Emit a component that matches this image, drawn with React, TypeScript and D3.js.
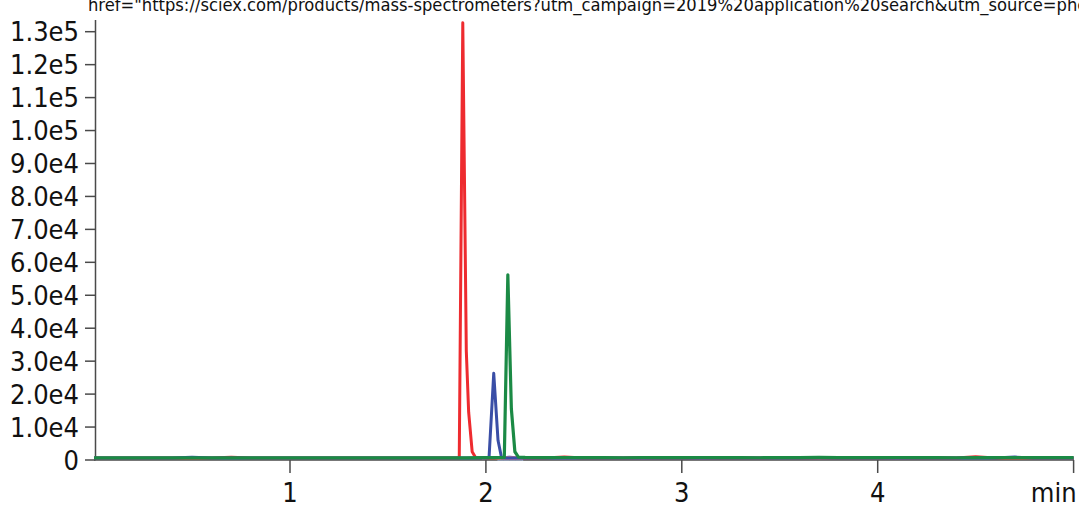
import React from "react";
import * as d3 from "d3";

// ---- data ----
const baselineTimes = [0.0, 0.1, 0.2, 0.3, 0.4, 0.5, 0.6, 0.7, 0.8, 0.9, 1.0, 1.1, 1.2, 1.3, 1.4, 1.5, 1.6, 1.7, 1.8, 1.9, 2.0, 2.1, 2.2, 2.3, 2.4, 2.5, 2.6, 2.7, 2.8, 2.9, 3.0, 3.1, 3.2, 3.3, 3.4, 3.5, 3.6, 3.7, 3.8, 3.9, 4.0, 4.1, 4.2, 4.3, 4.4, 4.5, 4.6, 4.7, 4.8, 4.9, 5.0];
const greenBaseline = [650, 640, 660, 630, 650, 660, 640, 650, 630, 660, 650, 640, 660, 650, 640, 660, 650, 630, 650, 660, 700, 720, 780, 720, 760, 700, 740, 690, 760, 710, 730, 760, 700, 740, 690, 750, 710, 770, 720, 700, 740, 760, 710, 730, 690, 740, 720, 700, 730, 710, 720];
const redBaseline = [600, 610, 590, 620, 600, 580, 620, 860, 610, 590, 600, 620, 600, 590, 610, 600, 620, 600, 610, 600, 620, 610, 640, 600, 880, 620, 640, 600, 650, 610, 630, 660, 600, 640, 610, 650, 600, 670, 620, 610, 640, 660, 600, 640, 610, 950, 620, 600, 630, 610, 620];
const blueBaseline = [610, 600, 620, 600, 610, 840, 600, 610, 600, 620, 600, 610, 600, 620, 600, 610, 600, 620, 600, 610, 600, 620, 630, 610, 640, 620, 630, 610, 640, 620, 610, 640, 620, 630, 610, 640, 620, 650, 610, 620, 630, 640, 620, 630, 610, 640, 620, 880, 640, 620, 630];

const redPeakTimes = [1.846, 1.864, 1.882, 1.9, 1.912, 1.93, 1.948];
const redPeakValues = [620, 650, 132700, 33000, 14500, 2500, 700];
const bluePeakTimes = [1.998, 2.016, 2.04, 2.062, 2.08];
const bluePeakValues = [600, 700, 26300, 5900, 700];
const greenPeakTimes = [2.076, 2.094, 2.112, 2.13, 2.148, 2.166];
const greenPeakValues = [700, 800, 56200, 15500, 2500, 900];
const lightBlueTimes = [2.06, 2.09, 2.12, 2.15, 2.19];
const lightBlueValues = [0, 800, 1300, 900, 0];
const pinkTimes = [1.98, 2.03, 2.07];
const pinkValues = [200, 700, 200];

const yTickValues = [0, 10000, 20000, 30000, 40000, 50000, 60000, 70000, 80000, 90000, 100000, 110000, 120000, 130000];
const yTickLabels = ["0", "1.0e4", "2.0e4", "3.0e4", "4.0e4", "5.0e4", "6.0e4", "7.0e4", "8.0e4", "9.0e4", "1.0e5", "1.1e5", "1.2e5", "1.3e5"];
const xTickValues = [1, 2, 3, 4, 5];
const xTickLabels = ["1", "2", "3", "4", "min"];

const headerText =
  'href="https://sciex.com/products/mass-spectrometers?utm_campaign=2019%20application%20search&utm_source=phe';

type Pt = [number, number];

function merge(bTimes: number[], bVals: number[], pTimes: number[], pVals: number[]): Pt[] {
  const lo = pTimes[0];
  const hi = pTimes[pTimes.length - 1];
  const pts: Pt[] = [];
  bTimes.forEach((t, i) => {
    if (t < lo || t > hi) pts.push([t, bVals[i]]);
  });
  pTimes.forEach((t, i) => pts.push([t, pVals[i]]));
  pts.sort((a, b) => a[0] - b[0]);
  return pts;
}

const W = 1079;
const H = 506;
const FONT = "'DejaVu Sans Condensed', 'Liberation Sans', Arial, sans-serif";

export default function App() {
  const x = d3.scaleLinear().domain([0, 5]).range([94.1, 1073.6]);
  const y = d3.scaleLinear().domain([0, 130000]).range([460, 31.7]);
  const line = d3
    .line<Pt>()
    .x((d) => x(d[0]))
    .y((d) => y(d[1]));
  const area = d3
    .area<Pt>()
    .x((d) => x(d[0]))
    .y0(y(0))
    .y1((d) => y(d[1]));

  const red = merge(baselineTimes, redBaseline, redPeakTimes, redPeakValues);
  const blue = merge(baselineTimes, blueBaseline, bluePeakTimes, bluePeakValues);
  const green = merge(baselineTimes, greenBaseline, greenPeakTimes, greenPeakValues);
  const lightBlue: Pt[] = lightBlueTimes.map((t, i) => [t, lightBlueValues[i]]);
  const pink: Pt[] = pinkTimes.map((t, i) => [t, pinkValues[i]]);

  const axisColor = "#4a4a4a";

  return (
    <div style={{ position: "fixed", left: 0, top: 0, width: W, height: H, background: "#fff" }}>
      <svg width={W} height={H} style={{ display: "block" }}>
        <rect x={0} y={0} width={W} height={H} fill="#fff" />
        <text x={88} y={10.5} fontFamily={FONT} fontSize={18.2} fill="#111">
          {headerText}
        </text>
        {/* axes */}
        <line x1={95.5} x2={95.5} y1={20} y2={460} stroke={axisColor} strokeWidth={1.5} />
        <line x1={94} x2={1074} y1={460} y2={460} stroke={axisColor} strokeWidth={1.5} />
        {yTickValues.map((v, i) => (
          <g key={"y" + i}>
            <line x1={85} x2={95.5} y1={y(v)} y2={y(v)} stroke={axisColor} strokeWidth={1.5} />
            <text
              x={79}
              y={y(v)}
              dy="0.36em"
              textAnchor="end"
              fontFamily={FONT}
              fontSize={27}
              fill="#111"
            >
              {yTickLabels[i]}
            </text>
          </g>
        ))}
        {xTickValues.map((v, i) => (
          <g key={"x" + i}>
            <line x1={x(v)} x2={x(v)} y1={460} y2={473} stroke={axisColor} strokeWidth={1.5} />
            <text
              x={i === xTickValues.length - 1 ? x(v) + 3 : x(v)}
              y={502}
              textAnchor={i === xTickValues.length - 1 ? "end" : "middle"}
              fontFamily={FONT}
              fontSize={27}
              fill="#111"
            >
              {xTickLabels[i]}
            </text>
          </g>
        ))}
        {/* traces */}
        <path d={area(lightBlue) || ""} fill="#b9cdee" stroke="#a9c0ea" strokeWidth={1} />
        <path d={line(pink) || ""} fill="none" stroke="#e79ab8" strokeWidth={1.5} />
        <path d={line(red) || ""} fill="none" stroke="#ee2b2f" strokeWidth={3} strokeLinejoin="round" />
        <path d={line(blue) || ""} fill="none" stroke="#3a4ea6" strokeWidth={3} strokeLinejoin="round" />
        <path d={line(green) || ""} fill="none" stroke="#1b8a45" strokeWidth={3.2} strokeLinejoin="round" />
      </svg>
    </div>
  );
}
